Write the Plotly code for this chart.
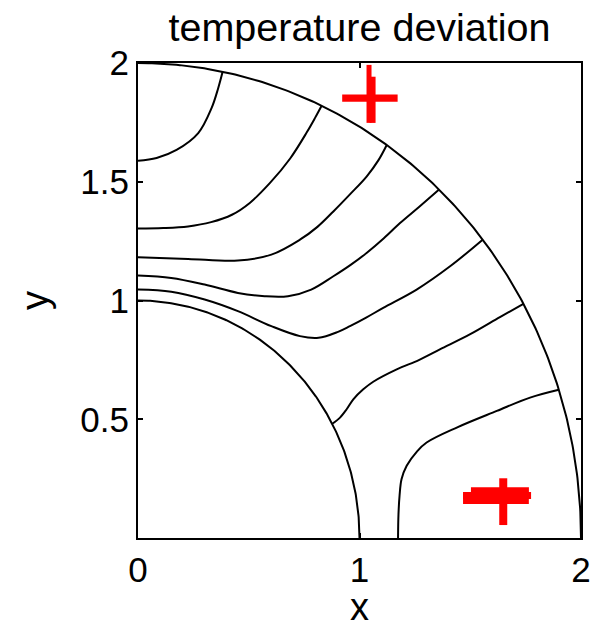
import numpy as np
import plotly.graph_objects as go

# Domain: quarter annulus between these radii
inner_radius = 1.0
outer_radius = 2.0

# Isolines of the temperature deviation, as (x, y) samples
iso_1_x = [0.0, 0.084, 0.174, 0.272, 0.332, 0.362, 0.382]
iso_1_y = [1.588, 1.600, 1.634, 1.705, 1.810, 1.894, 1.963]

iso_2_x = [0.0, 0.114, 0.226, 0.330, 0.424, 0.506, 0.596, 0.687, 0.762, 0.800, 0.829]
iso_2_y = [1.303, 1.305, 1.312, 1.330, 1.361, 1.412, 1.495, 1.598, 1.708, 1.770, 1.820]

iso_3_x = [0.0, 0.226, 0.451, 0.602, 0.731, 0.810, 0.882, 0.960, 1.032, 1.085, 1.123]
iso_3_y = [1.182, 1.175, 1.168, 1.193, 1.256, 1.310, 1.375, 1.450, 1.522, 1.590, 1.655]

iso_4_x = [0.0, 0.150, 0.301, 0.451, 0.572, 0.677, 0.782, 0.882, 0.960, 1.032, 1.110,
           1.183, 1.270, 1.358]
iso_4_y = [1.105, 1.095, 1.067, 1.032, 1.018, 1.018, 1.046, 1.102, 1.150, 1.200, 1.262,
           1.326, 1.395, 1.466]

iso_5_x = [0.0, 0.150, 0.301, 0.451, 0.602, 0.731, 0.815, 0.903, 0.957, 1.030, 1.107,
           1.258, 1.409, 1.556]
iso_5_y = [1.046, 1.037, 1.004, 0.955, 0.892, 0.850, 0.843, 0.868, 0.892, 0.928, 0.969,
           1.046, 1.144, 1.256]

iso_6_x = [0.877, 0.912, 0.942, 0.972, 1.017, 1.062, 1.168, 1.270, 1.363, 1.500, 1.634,
           1.740]
iso_6_y = [0.481, 0.507, 0.542, 0.584, 0.626, 0.658, 0.710, 0.750, 0.794, 0.858, 0.930,
           0.986]

iso_7_x = [1.174, 1.176, 1.181, 1.190, 1.213, 1.260, 1.303, 1.439, 1.620, 1.770, 1.900]
iso_7_y = [0.0, 0.100, 0.180, 0.248, 0.304, 0.365, 0.402, 0.465, 0.535, 0.591, 0.624]

isolines = [
    (iso_1_x, iso_1_y), (iso_2_x, iso_2_y), (iso_3_x, iso_3_y),
    (iso_4_x, iso_4_y), (iso_5_x, iso_5_y), (iso_6_x, iso_6_y),
    (iso_7_x, iso_7_y),
]

# Red source marks (horizontal and vertical strokes)
mark_h_x = [1.047, 1.634, 1.616, 1.621]
mark_h_y = [1.852, 0.193, 0.164, 0.179]
mark_v_x = [1.043, 1.059, 1.649]
mark_v_y = [1.870, 1.845, 0.153]

# Stroke styles for the marks
mark_h_size = [39.6, 41.4, 47.0, 48.6]
mark_h_width = [7.3, 10, 10, 7]
mark_v_size = [41.4, 33.0, 33.4]
mark_v_width = [5, 6, 8]

# x-axis / y-axis tick labels
x_ticks = [0, 1, 2]
y_ticks = [0.5, 1, 1.5, 2]

FONT = "Liberation Sans, Arial, Helvetica, sans-serif"

fig = go.Figure()

theta = np.linspace(0, np.pi / 2, 200)
for r in (inner_radius, outer_radius):
    fig.add_trace(go.Scatter(
        x=r * np.cos(theta), y=r * np.sin(theta), mode="lines",
        line=dict(color="black", width=2), hoverinfo="skip", showlegend=False,
    ))

for xs, ys in isolines:
    fig.add_trace(go.Scatter(
        x=xs, y=ys, mode="lines",
        line=dict(color="black", width=2, shape="spline", smoothing=1.0),
        showlegend=False,
    ))

fig.add_trace(go.Scatter(
    x=mark_h_x, y=mark_h_y, mode="markers", showlegend=False,
    marker=dict(symbol="line-ew", size=mark_h_size, color="red", opacity=1,
                line=dict(color="red", width=mark_h_width)),
))
fig.add_trace(go.Scatter(
    x=mark_v_x, y=mark_v_y, mode="markers", showlegend=False,
    marker=dict(symbol="line-ns", size=mark_v_size, color="red", opacity=1,
                line=dict(color="red", width=mark_v_width)),
))

axis_common = dict(
    showgrid=False, zeroline=False, showline=True, linecolor="black",
    linewidth=2, mirror="ticks", ticks="inside", ticklen=5, tickwidth=1.5,
    tickcolor="black", tickfont=dict(family=FONT, size=35, color="black"),
    automargin=False,
)

fig.update_layout(
    width=607, height=628,
    margin=dict(l=138, r=26, t=63, b=90),
    paper_bgcolor="white", plot_bgcolor="white",
    font=dict(family=FONT, color="black"),
    title=dict(text="temperature deviation", x=0.5, xref="paper",
               y=1 - 27 / 628, yref="container", yanchor="middle",
               font=dict(family=FONT, size=39.5, color="black")),
    xaxis=dict(range=[0, 2], tickvals=x_ticks,
               ticktext=[str(v) for v in x_ticks], ticklabelstandoff=0,
               title=dict(text="x", font=dict(family=FONT, size=38), standoff=13),
               **axis_common),
    yaxis=dict(range=[0, 2], tickvals=y_ticks,
               ticktext=[f"{v:g}" for v in y_ticks],
               title=dict(text="y", font=dict(family=FONT, size=38), standoff=20),
               **axis_common),
)

fig.write_html("out.html")
